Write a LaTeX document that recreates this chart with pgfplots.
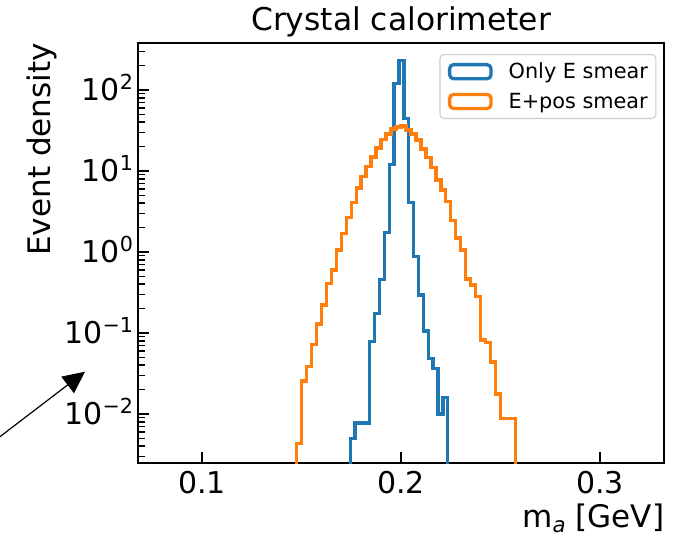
\documentclass[border=0pt]{standalone}
\usepackage{fontspec}
\setmainfont{DejaVu Sans}
\usepackage{pgfplots}
\pgfplotsset{compat=1.18}
\usetikzlibrary{arrows.meta}
\definecolor{mplblue}{HTML}{1F77B4}
\definecolor{mplorange}{HTML}{FF7F0E}
\newcommand\tsup[1]{\raisebox{0.39em}{\fontsize{15.5}{16}\selectfont #1}}

\begin{document}
\begin{tikzpicture}
\begin{axis}[
  name=ax,
  scale only axis,
  width=394.95pt, height=315.45pt,
  xmin=0.0677, xmax=0.3324,
  ymode=log, ymin=0.00246, ymax=383.7,
  xtick={0.1,0.2,0.3}, xticklabels={0.1,0.2,0.3},
  ytick={1e-2,1e-1,1,10,100},
  yticklabels={10\tsup{−2},10\tsup{−1},10\tsup{0},10\tsup{1},10\tsup{2}},
  minor ytick={0.003,0.004,0.005,0.006,0.007,0.008,0.009,
    0.02,0.03,0.04,0.05,0.06,0.07,0.08,0.09,
    0.2,0.3,0.4,0.5,0.6,0.7,0.8,0.9,
    2,3,4,5,6,7,8,9,20,30,40,50,60,70,80,90,200,300},
  /pgf/number format/assume math mode=true,
  xtick pos=left, ytick pos=left,
  tick align=inside,
  major tick length=8.6pt, minor tick length=5.5pt,
  every tick/.append style={black, line width=1.2pt},
  axis line style={line width=1.5pt},
  ticklabel style={font=\fontsize{22.5}{27}\selectfont},
  xticklabel style={anchor=north, inner sep=0pt, yshift=-5.7pt},
  yticklabel style={anchor=base east, inner sep=0pt, xshift=-3.4pt, yshift=-8.2pt},
  title={Crystal calorimeter},
  title style={at={(0.5,1.0111)}, anchor=base, inner sep=0pt, font=\fontsize{23.5}{28}\selectfont},
  xlabel={m\raisebox{-0.15em}{\fontsize{16}{16}\selectfont\itshape a} [GeV]},
  xlabel style={at={(1,-0.1525)}, anchor=base east, inner sep=0pt, font=\fontsize{23.3}{28}\selectfont},
  ylabel={Event density},
  ylabel style={at={(-0.1653,1)}, rotate=0, anchor=base east, inner sep=0pt, font=\fontsize{23.3}{28}\selectfont},
  legend style={at={(1,1)}, anchor=north east, xshift=-6pt, yshift=-8.5pt,
    draw=black!20, line width=0.8pt, rounded corners=3pt, fill=white,
    fill opacity=0.8, text opacity=1, draw opacity=1,
    font=\fontsize{15.6}{18}\selectfont,
    inner xsep=6pt, inner ysep=6.2pt, nodes={inner sep=0pt},
    column sep=12pt, row sep=9.1pt},
  legend cell align=left,
  legend image code/.code={\draw[#1, line width=2.5pt] (0pt,-5.3pt) rectangle (31pt,5.3pt);},
]
\addplot[const plot, mplblue, line width=2.6pt, line join=miter] coordinates {
(0.1745,1e-4)
(0.17450,0.0050) (0.17695,0.0077) (0.17940,0.0077) (0.18185,0.0077)
(0.18430,0.078) (0.18675,0.175) (0.18920,0.46) (0.19165,1.73)
(0.19410,12.1) (0.19655,121) (0.19900,230) (0.20145,44.7)
(0.20390,4.1) (0.20635,0.875) (0.20880,0.294) (0.21125,0.106)
(0.21370,0.0486) (0.21615,0.0366) (0.21860,0.0100) (0.22105,0.0160)
(0.22350,0.0160) (0.22350,1e-4)
};
\addlegendentry{Only E smear}
\addplot[const plot, mplorange, line width=2.6pt, line join=miter] coordinates {
(0.1475,1e-4)
(0.1475,0.00435) (0.1500,0.0255) (0.1525,0.0384) (0.1550,0.0725)
(0.1575,0.129) (0.1600,0.222) (0.1625,0.411) (0.1650,0.600)
(0.1675,1.06) (0.1700,1.70) (0.1725,2.68) (0.1750,4.11)
(0.1775,6.2) (0.1800,8.51) (0.1825,11.3) (0.1850,14.8)
(0.1875,19.1) (0.1900,24.6) (0.1925,28.7) (0.1950,32.8)
(0.1975,34.9) (0.2000,35.9) (0.2025,32.1) (0.2050,28.8)
(0.2075,24.1) (0.2100,18.7) (0.2125,14.6) (0.2150,11.0)
(0.2175,7.74) (0.2200,5.82) (0.2225,4.18) (0.2250,2.43)
(0.2275,1.48) (0.2300,1.06) (0.2325,0.464) (0.2350,0.392)
(0.2375,0.281) (0.2400,0.082) (0.2425,0.076) (0.2450,0.0438)
(0.2475,0.0177) (0.2500,0.00875) (0.2525,0.00875) (0.2550,0.00875)
(0.2575,0.00875) (0.2575,1e-4)
};
\addlegendentry{E+pos smear}
\end{axis}
\draw[line width=0.9pt, -{Triangle[length=16.4pt,width=15.5pt]}]
  ([shift={(-107.1pt,17.1pt)}]ax.south west) -- ([shift={(-39.6pt,68.7pt)}]ax.south west);
\pgfresetboundingbox
\path[use as bounding box] ([shift={(-103.35pt,-53.03pt)}]ax.south west) rectangle ++(512.25pt,400.5pt);
\end{tikzpicture}
\end{document}
